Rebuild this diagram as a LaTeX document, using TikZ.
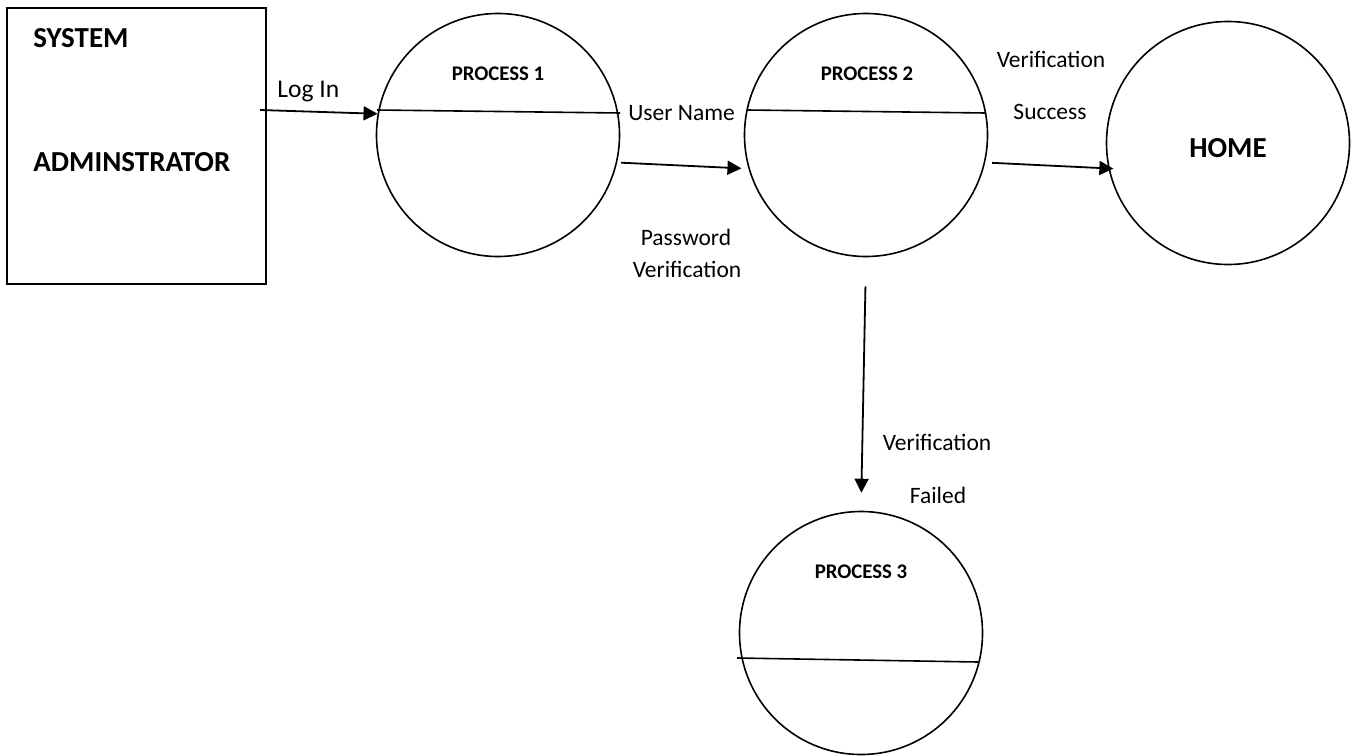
\documentclass[tikz,border=0pt]{standalone}
\usepackage{fontspec}
\setmainfont{Carlito}
\usetikzlibrary{arrows.meta}
\begin{document}
\begin{tikzpicture}[x=0.5pt,y=-0.5pt,
  proc/.style={circle,draw,line width=0.8pt,minimum size=121.5pt,inner sep=0pt},
  ent/.style={rectangle,draw,line width=1pt,minimum width=129.5pt,minimum height=138pt,inner sep=0pt},
  flow/.style={line width=0.9pt,-{Triangle[length=7pt,width=7pt]}},
  divider/.style={line width=0.8pt},
  lbl/.style={font=\fontsize{11.75}{14}\selectfont,inner sep=0pt,anchor=base},
  ptitle/.style={font=\bfseries\fontsize{10.4}{12}\selectfont,inner sep=0pt,anchor=base},
  big/.style={font=\bfseries\fontsize{14.5}{17}\selectfont,inner sep=0pt}]
\useasboundingbox (0,0) rectangle (1353,755);
% external entity
\node[ent] (sa) at (136.5,146) {};
\node[big,anchor=base west] (sys) at (33,47) {SYSTEM};
\node[big,anchor=base west] (adm) at (33,171) {ADMINSTRATOR};
% processes
\node[proc] (p1) at (498,135) {};
\node[proc] (p2) at (866,135) {};
\node[proc] (home) at (1228,143) {};
\node[proc] (p3) at (861,633) {};
\draw[divider] (377,110) -- (620,113);
\draw[divider] (747,110) -- (986,113);
\draw[divider] (737,658) -- (978,662);
\node[ptitle] (t1) at (498,80) {PROCESS 1};
\node[ptitle] (t2) at (867,80) {PROCESS 2};
\node[ptitle] (t3) at (861,578) {PROCESS 3};
\node[big,anchor=base] (th) at (1228,157) {HOME};
% connectors
\coordinate (loginstart) at (260,110);
\draw[flow] (loginstart) -- (p1.170);
\draw[flow,shorten <=2pt,shorten >=3.5pt] (p1.-13) -- (p2.196);
\draw[flow,shorten <=3.5pt,shorten >=-2.5pt] (p2.-13) -- (home.192);
\draw[flow,shorten <=14.5pt,shorten >=9pt] (p2.south) -- (p3.north);
% labels
\node[lbl,anchor=base west,font=\fontsize{12.75}{15}\selectfont] (llogin) at (277,97) {Log In};
\node[lbl,anchor=base west] (luser) at (628,120) {User Name};
\node[lbl] (lpw) at (686,245) {Password};
\node[lbl] (lpwv) at (687,277) {Verification};
\node[lbl] (lvs1) at (1051,67) {Verification};
\node[lbl] (lvs2) at (1050,119) {Success};
\node[lbl] (lvf1) at (937,450) {Verification};
\node[lbl] (lvf2) at (938,503) {Failed};
\end{tikzpicture}
\end{document}
